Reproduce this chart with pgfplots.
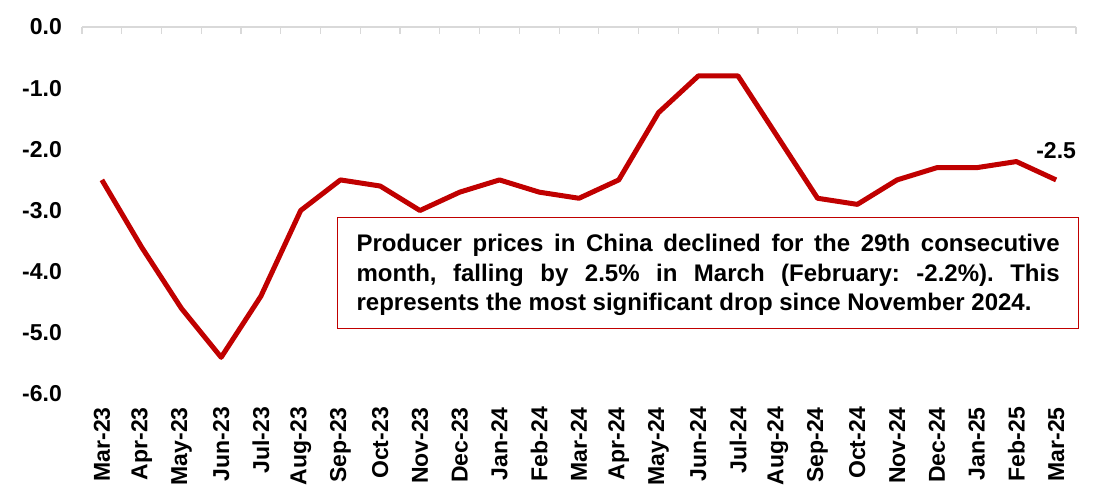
\documentclass[border=0pt]{standalone}
\usepackage{pgfplots}
\pgfplotsset{compat=1.18}
\usepackage{fontspec}
\setmainfont{Liberation Sans}
\frenchspacing
\definecolor{ppired}{HTML}{C00000}
\definecolor{axgray}{HTML}{D9D9D9}
\begin{document}
\begin{tikzpicture}
\begin{axis}[
  at={(0,0)}, anchor=south west,
  scale only axis, width=994pt, height=367pt,
  xmin=-0.5, xmax=24.5, ymin=-6, ymax=0,
  axis line style={draw=none},
  xtick={0,...,24},
  xticklabels={Mar-23,Apr-23,May-23,Jun-23,Jul-23,Aug-23,Sep-23,Oct-23,Nov-23,Dec-23,Jan-24,Feb-24,Mar-24,Apr-24,May-24,Jun-24,Jul-24,Aug-24,Sep-24,Oct-24,Nov-24,Dec-24,Jan-25,Feb-25,Mar-25},
  ytick={-6,-5,-4,-3,-2,-1,0},
  major tick length=0pt,
  tick style={draw=none},
  /pgf/number format/assume math mode=true,
  ticklabel style={font=\bfseries\fontsize{23}{23}\selectfont},
  yticklabel style={inner sep=0pt, xshift=-20pt,
    /pgf/number format/fixed, /pgf/number format/fixed zerofill, /pgf/number format/precision=1},
  xticklabel style={rotate=90, anchor=east, inner sep=0pt},
  xticklabel shift=13pt,
  clip=false,
]
\addplot[ppired, line width=5pt, line join=round] coordinates {
(0,-2.5) (1,-3.6) (2,-4.6) (3,-5.4) (4,-4.4) (5,-3.0) (6,-2.5) (7,-2.6) (8,-3.0) (9,-2.7)
(10,-2.5) (11,-2.7) (12,-2.8) (13,-2.5) (14,-1.4) (15,-0.8) (16,-0.8) (17,-1.8) (18,-2.8)
(19,-2.9) (20,-2.5) (21,-2.3) (22,-2.3) (23,-2.2) (24,-2.5)
};
\addplot[draw=none, nodes near coords, point meta=explicit symbolic,
  every node near coord/.style={font=\bfseries\fontsize{23}{23}\selectfont, anchor=south, inner sep=0pt, yshift=21pt}]
  coordinates {(24,-2.5) [-2.5]};
\end{axis}
\draw[axgray, line width=1.2pt] (0,367pt) -- (994pt,367pt);
\foreach \i in {0,...,25} \draw[axgray, line width=1.2pt] (\i*39.76pt,367pt) -- ++(0,-7pt);
\node[draw=ppired, fill=white, line width=1.3pt, anchor=north west, text width=703pt,
  inner xsep=19pt, inner ysep=13pt, align=justify,
  font=\bfseries\fontsize{24}{29.5}\selectfont] at (255pt,177pt)
  {\rule{0pt}{21pt}Producer prices in China declined for the 29th consecutive\linebreak month, falling by 2.5\% in March (February: -2.2\%). This\linebreak represents the most significant drop since November 2024.};
\pgfresetboundingbox
\path[use as bounding box] (-82pt,-104pt) rectangle (1020pt,394pt);
\end{tikzpicture}
\end{document}
